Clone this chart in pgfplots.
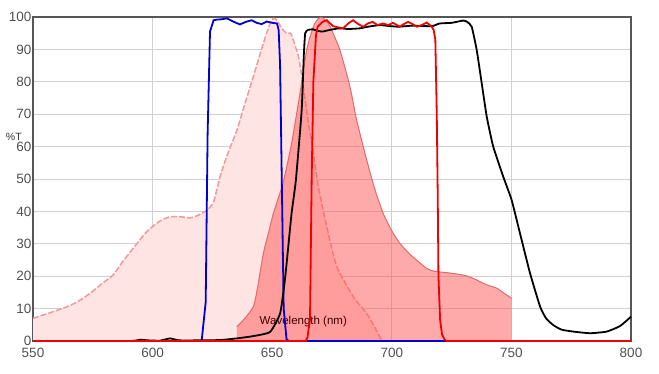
\documentclass[border=0pt]{standalone}
\usepackage{pgfplots}
\pgfplotsset{compat=1.18}
\usepackage{pgfplotstable}
\usepackage{fontspec}
\setmainfont{Liberation Sans}
\definecolor{exfill}{HTML}{FFE4E4}
\definecolor{exline}{HTML}{F09A9A}
\definecolor{emfill}{HTML}{FF5555}
\definecolor{emline}{HTML}{E06A6A}
\definecolor{fblue}{HTML}{0000D0}
\definecolor{fred}{HTML}{F00000}
\definecolor{frame}{HTML}{555555}
\definecolor{gridc}{HTML}{D0D0D0}
\definecolor{tickc}{HTML}{505050}

\pgfplotstableread{
x y
550 7
557 8.7
564 10.5
569 12.3
574 14.8
579 17.8
583.5 20.4
588 25
593.4 30
597 33.3
600 35.3
603 37
607 38.3
611 38.4
615.6 38
619 38.8
622.7 40.4
625.5 43
628.2 50.7
631 57
635.2 65
638.5 73
642.1 81.6
646.3 91.9
649.1 98
650.5 99.6
652 99
654 96.5
656 95
657.4 95
658.1 94.4
661 87.7
663 78.5
665 68
667.2 58
669.3 47.6
672.8 35.3
677 23
683.9 13.7
689.5 8.5
693 4
695 1.3
696 0
}\excitation

\pgfplotstableread{
x y
635.2 4.4
638 6.5
642.1 10.6
644 17
646.3 27
648.5 33.5
650.5 39.4
654.6 49
658.1 61
661.6 76.4
664.4 89.8
667.2 97
669 99.3
670.7 99.9
672.5 98.8
674.2 97
678.3 89.8
682.5 78.5
685.3 68.2
689.5 55.9
693 46.6
696.4 39.4
700 34
703.4 30.1
708 26.5
714.6 22.4
718 21.5
722.9 21.1
727 20.7
731.3 20.1
735 19
738.3 17.8
741 17
743.9 16.3
747 14.7
750.1 13.2
}\emission

\pgfplotstableread{
x y
550 0
620.5 0
622.2 12
623 64
624 95.5
625.5 99
627 99.2
629 99.3
631 99.6
634 98.5
636.5 97.7
639 98.5
641.4 99
643.5 98.2
645.6 97.8
647.7 98.6
650 98.2
652 98
652.7 96
653.3 85
654 50
654.8 10
656 0.5
657 0
800 0
}\fblue

\pgfplotstableread{
x y
550 0
590 0
594.7 0.4
598 0.2
603 0.1
607.3 0.8
611 0.2
620 0.2
628.2 0.3
635.2 0.8
642 1.5
649.1 2.8
653.3 8.5
655.3 18.8
656.7 29
658.1 39.4
659.9 49.7
662.3 71
663.2 88
663.8 95
665 96
667 96.2
669 95.7
671 95.5
674 96
678 96.5
682 96.3
686.7 96.5
690 97
695 97.5
699 97.2
703 97
708 97.3
713 97.2
717 97.2
720 98
725 98.2
729.9 98.9
731.5 98.5
733.4 97
735.5 89.8
737.6 79.5
739.7 69.2
742.4 60
746.6 50.7
750.1 43.5
753.6 33.2
757.8 20.9
762 10.6
764.5 7
767.5 4.9
771 3.5
775.9 2.9
782.9 2.4
789.8 2.9
795.4 4.6
800 7.5
}\fblack

\pgfplotstableread{
x y
550 0
664 0
664.7 1
665.8 6.5
666.5 50
667.2 80
668.3 94.4
669 97
671 98.5
672.8 99
675.4 97.2
677.5 96.8
679.6 96.5
681.8 98
683.8 99
686 97.8
688 97
690 98
692 98.5
694 97.5
696.3 98
698.5 97.5
700.5 98.2
703.4 97
705 97.8
706.8 98.5
708.7 97.8
710.5 97
712.5 97.5
714.6 98.3
716.7 97
717.5 96
718.2 93
718.8 70
719.2 45
719.5 20
720.2 6.5
721 2
722.2 0.3
723 0
800 0
}\fred

\begin{document}
\begin{tikzpicture}
\path[use as bounding box] (0,0) rectangle (659pt,374pt);
\begin{axis}[
  at={(33pt,33pt)}, anchor=south west,
  scale only axis, width=598pt, height=324pt,
  xmin=550, xmax=800, ymin=0, ymax=100,
  xtick={550,600,...,800}, ytick={0,10,...,100},
  grid=major,
  major grid style={color=gridc, line width=0.8pt},
  major tick length=0pt,
  axis line style={color=frame, line width=2pt},
  tick label style={font=\fontsize{13.5}{16}\selectfont, text=tickc},
  /pgf/number format/assume math mode=true,
  yticklabel style={inner sep=1.5pt},
  xticklabel style={yshift=-4pt},
  clip=false,
]
\addplot[draw=none, fill=exfill, smooth, tension=0.4] table {\excitation} \closedcycle;
\addplot[color=exline, line width=1.5pt, dash pattern=on 6pt off 2pt, smooth, tension=0.4] table {\excitation};
\addplot[draw=none, fill=emfill, fill opacity=0.5, smooth, tension=0.4] table {\emission} \closedcycle;
\addplot[color=emline, line width=1pt, smooth, tension=0.4] table {\emission};
\node[font=\fontsize{11.5}{13}\selectfont, text=black!65!red!70!black] at (axis cs:663,6) {Wavelength (nm)};
\addplot[color=fblue, line width=1.8pt] table {\fblue};
\addplot[color=black, line width=1.8pt, smooth, tension=0.3] table {\fblack};
\addplot[color=fred, line width=1.8pt] table {\fred};
\node[font=\fontsize{10.5}{12}\selectfont, text=black!80] at (rel axis cs:-0.032,0.63) {\%T};
\end{axis}
\end{tikzpicture}
\end{document}
